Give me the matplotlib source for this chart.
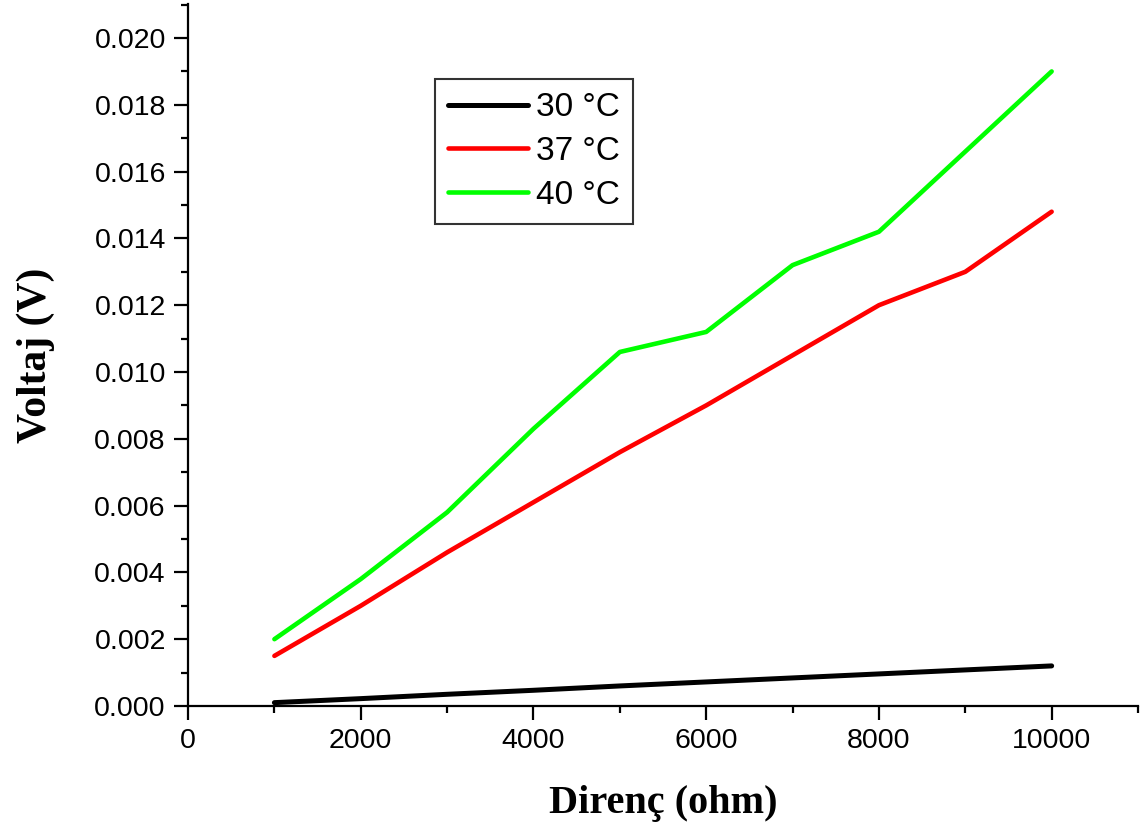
import matplotlib
matplotlib.use("Agg")
import matplotlib.pyplot as plt
from matplotlib.ticker import MultipleLocator

resistance = [1000, 2000, 3000, 4000, 5000, 6000, 7000, 8000, 9000, 10000]
v30 = [0.0001, 0.00022, 0.00035, 0.00047, 0.0006, 0.00072, 0.00084, 0.00096, 0.00108, 0.0012]
v37 = [0.0015, 0.003, 0.0046, 0.0061, 0.0076, 0.009, 0.0105, 0.012, 0.013, 0.0148]
v40 = [0.002, 0.0038, 0.0058, 0.0083, 0.0106, 0.0112, 0.0132, 0.0142, 0.0166, 0.019]
labels = ["30 °C", "37 °C", "40 °C"]

plt.rcParams['font.family'] = ['Liberation Sans', 'DejaVu Sans']

fig = plt.figure(figsize=(11.48, 8.26), dpi=100)
ax = fig.add_axes([0.1638, 0.1453, 0.8275, 0.8499])

ax.plot(resistance, v30, color='black', lw=3.6, solid_capstyle='round', label=labels[0])
ax.plot(resistance, v37, color='#ff0000', lw=3.3, solid_capstyle='round', label=labels[1])
ax.plot(resistance, v40, color='#00ff00', lw=3.3, solid_capstyle='round', label=labels[2])

ax.set_xlim(0, 11000)
ax.set_ylim(0, 0.02102)
ax.xaxis.set_major_locator(MultipleLocator(2000))
ax.xaxis.set_minor_locator(MultipleLocator(1000))
ax.yaxis.set_major_locator(MultipleLocator(0.002))
ax.yaxis.set_minor_locator(MultipleLocator(0.001))
ax.yaxis.set_major_formatter(plt.FormatStrFormatter('%.3f'))

for s in ['top', 'right']:
    ax.spines[s].set_visible(False)
for s in ['left', 'bottom']:
    ax.spines[s].set_linewidth(1.6)

ax.tick_params(which='major', direction='out', length=10, width=1.6, labelsize=20.5, pad=6)
ax.tick_params(which='minor', direction='out', length=5, width=1.6)

ax.set_xlabel("Direnç (ohm)", fontsize=29, fontweight='bold', family='Liberation Serif', labelpad=22)
ax.set_ylabel("Voltaj (V)", fontsize=30, fontweight='bold', family='Liberation Serif', labelpad=28)

leg = ax.legend(loc='upper left', bbox_to_anchor=(0.26, 0.893), borderaxespad=0,
                fontsize=24, frameon=True, fancybox=False, edgecolor='black',
                handlelength=2.4, handletextpad=0.22, labelspacing=0.38, borderpad=0.4)
leg.get_frame().set_linewidth(1.5)

fig.savefig("out.png", dpi=100)
